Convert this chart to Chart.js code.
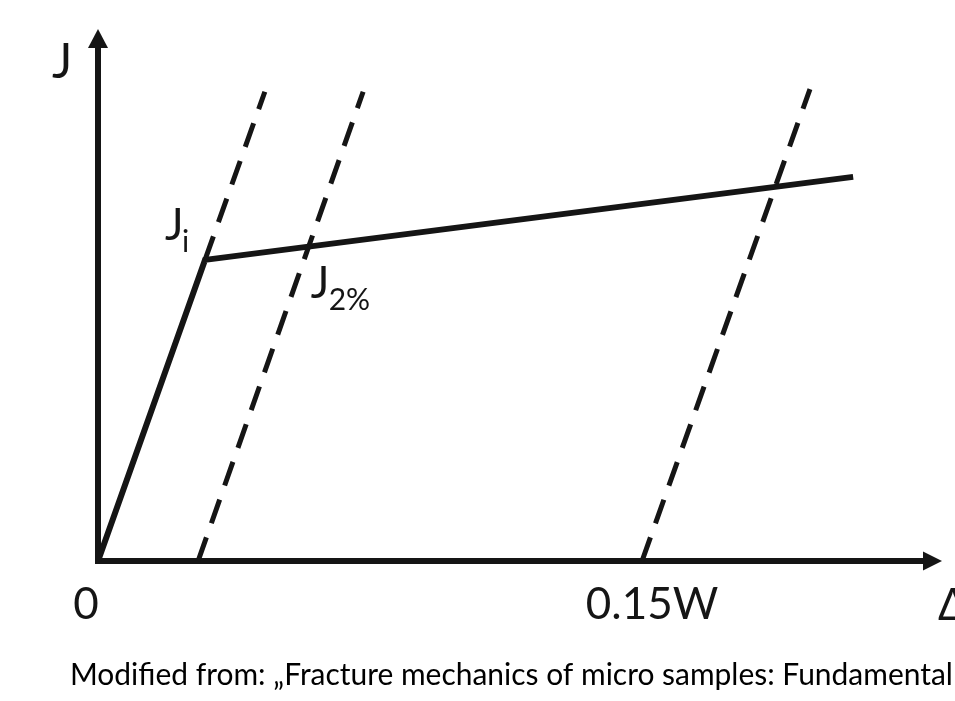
<!DOCTYPE html>
<html>
<head>
<meta charset="utf-8">
<script src="https://cdn.jsdelivr.net/npm/chart.js@4"></script>
<style>
  html, body { margin: 0; padding: 0; background: #ffffff; }
  #wrap { width: 955px; height: 701px; position: relative; }
</style>
</head>
<body>
<div id="wrap"><canvas id="c" width="955" height="701"></canvas></div>
<script>
// ---- data ----
const xTickValues = [0, 0.15];
const xTickLabels = ['0', '0.15W'];
const xAxisTitle = 'Δ';
const yAxisTitle = 'J';
const xRange = [0, 0.2327];
const jRange = [0, 100];

const curveX = [0, 0.0295, 0.2082];
const curveJ = [0, 56.6, 72.2];

const blunt1X = [0.0295, 0.0460];
const blunt1J = [56.6, 88.2];
const blunt2X = [0.0276, 0.0731];
const blunt2J = [0, 88.2];
const blunt3X = [0.15, 0.1963];
const blunt3J = [0, 88.7];

const pointLabelMain = ['J', 'J'];
const pointLabelSub = ['i', '2%'];
const captionText = 'Modified from: \u201EFracture mechanics of micro samples: Fundamental';

const INK = '#151515';
const FONT = 'Lato, "Open Sans", sans-serif';

function pts(xs, ys) { return xs.map((x, i) => ({ x: x, y: ys[i] })); }

// intersection of the 2nd offset line with the upper part of the curve
function intersect(ax, ay, bx, by, cx, cy, dx, dy) {
  const d = (ax - bx) * (cy - dy) - (ay - by) * (cx - dx);
  const t = ((ax - cx) * (cy - dy) - (ay - cy) * (cx - dx)) / d;
  return { x: ax + t * (bx - ax), y: ay + t * (by - ay) };
}

const drawingPlugin = {
  id: 'drawing',
  beforeDatasetsDraw(chart) {
    const ctx = chart.ctx;
    const xs = chart.scales.x, ys = chart.scales.y;
    const x0 = xs.getPixelForValue(0), y0 = ys.getPixelForValue(0);
    const xEnd = xs.getPixelForValue(xs.max), yEnd = ys.getPixelForValue(ys.max);
    ctx.save();
    ctx.strokeStyle = INK; ctx.fillStyle = INK; ctx.lineWidth = 6; ctx.lineCap = 'butt';
    // y axis
    ctx.beginPath(); ctx.moveTo(x0, y0 + 3); ctx.lineTo(x0, yEnd + 14); ctx.stroke();
    ctx.beginPath(); ctx.moveTo(x0, yEnd); ctx.lineTo(x0 - 10, yEnd + 19); ctx.lineTo(x0 + 10, yEnd + 19); ctx.closePath(); ctx.fill();
    // x axis
    ctx.beginPath(); ctx.moveTo(x0 - 3, y0); ctx.lineTo(xEnd - 14, y0); ctx.stroke();
    ctx.beginPath(); ctx.moveTo(xEnd, y0); ctx.lineTo(xEnd - 19, y0 - 9.5); ctx.lineTo(xEnd - 19, y0 + 9.5); ctx.closePath(); ctx.fill();
    ctx.restore();
  },
  afterDatasetsDraw(chart) {
    const ctx = chart.ctx;
    const xs = chart.scales.x, ys = chart.scales.y;
    const x0 = xs.getPixelForValue(0), y0 = ys.getPixelForValue(0);
    const xEnd = xs.getPixelForValue(xs.max), yEnd = ys.getPixelForValue(ys.max);
    ctx.save();
    ctx.fillStyle = INK;
    ctx.textBaseline = 'alphabetic';
    // tick labels
    ctx.font = '44px ' + FONT;
    const tickDx = [-12, 10];
    xTickValues.forEach((v, i) => {
      ctx.textAlign = 'center';
      ctx.fillText(xTickLabels[i], xs.getPixelForValue(v) + tickDx[i], y0 + 58);
    });
    // axis titles
    ctx.textAlign = 'left';
    ctx.fillText(xAxisTitle, xEnd - 4, y0 + 59);
    ctx.font = '48px ' + FONT;
    ctx.fillText(yAxisTitle, x0 - 46, yEnd + 49);

    // point labels
    const knee = { x: xs.getPixelForValue(curveX[1]), y: ys.getPixelForValue(curveJ[1]) };
    const ip = intersect(blunt2X[0], blunt2J[0], blunt2X[1], blunt2J[1], curveX[1], curveJ[1], curveX[2], curveJ[2]);
    const cross = { x: xs.getPixelForValue(ip.x), y: ys.getPixelForValue(ip.y) };
    const anchors = [
      { p: knee, mx: -40, my: -20, sx: -23, sy: -8 },
      { p: cross, mx: 2, my: 51, sx: 20, sy: 63 }
    ];
    anchors.forEach((a, i) => {
      ctx.font = '44px ' + FONT;
      ctx.fillText(pointLabelMain[i], a.p.x + a.mx, a.p.y + a.my);
      ctx.font = '30px ' + FONT;
      ctx.fillText(pointLabelSub[i], a.p.x + a.sx, a.p.y + a.sy);
    });

    // caption
    ctx.fillStyle = '#000';
    let size = 26;
    ctx.font = size + 'px ' + FONT;
    const w = ctx.measureText(captionText).width;
    size = size * 883 / w;
    ctx.font = size.toFixed(2) + 'px ' + FONT;
    ctx.fillText(captionText, 70, 685);
    ctx.restore();
  }
};

const lineBase = {
  showLine: true, pointRadius: 0, pointHoverRadius: 0, fill: false, tension: 0,
  borderColor: INK, backgroundColor: INK, clip: false,
  borderCapStyle: 'butt', borderJoinStyle: 'miter'
};

new Chart(document.getElementById('c'), {
  type: 'scatter',
  data: {
    datasets: [
      Object.assign({}, lineBase, { label: 'curve', data: pts(curveX, curveJ), borderWidth: 6 }),
      Object.assign({}, lineBase, { label: 'b1', data: pts(blunt1X, blunt1J), borderWidth: 5, borderDash: [25, 15] }),
      Object.assign({}, lineBase, { label: 'b2', data: pts(blunt2X, blunt2J), borderWidth: 5, borderDash: [25, 15] }),
      Object.assign({}, lineBase, { label: 'b3', data: pts(blunt3X, blunt3J), borderWidth: 5, borderDash: [25, 15] })
    ]
  },
  options: {
    responsive: false,
    animation: false,
    events: [],
    layout: { padding: { left: 98, right: 13, top: 29, bottom: 140 } },
    plugins: { legend: { display: false }, tooltip: { enabled: false } },
    scales: {
      x: { type: 'linear', display: false, min: xRange[0], max: xRange[1] },
      y: { type: 'linear', display: false, min: jRange[0], max: jRange[1] }
    }
  },
  plugins: [drawingPlugin]
});
</script>
</body>
</html>
